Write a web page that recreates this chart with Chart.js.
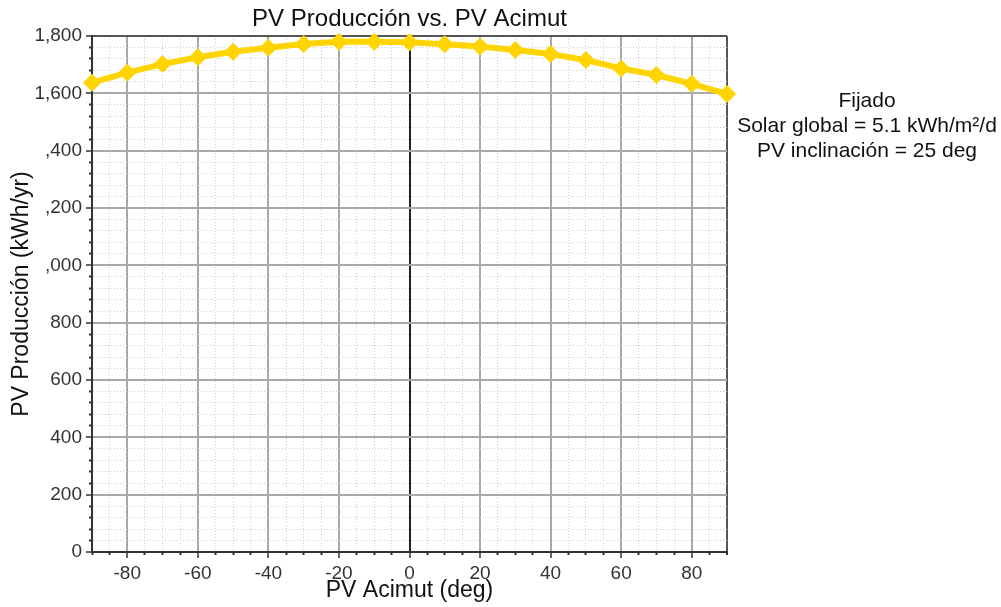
<!DOCTYPE html>
<html><head><meta charset="utf-8">
<script src="https://cdn.jsdelivr.net/npm/chart.js@4.4.1/dist/chart.umd.min.js"></script>
<style>
html,body{margin:0;padding:0;background:#fff;}
#wrap{position:relative;width:1001px;height:607px;overflow:hidden;}
#note{position:absolute;left:733px;top:87px;width:268px;text-align:center;font-family:'Liberation Sans',Arial,sans-serif;font-size:21px;line-height:25px;color:#111;}
</style></head><body>
<div id="wrap"><canvas id="c" width="1001" height="607"></canvas>
<div id="note"><div>Fijado</div><div>Solar global = 5.1 kWh/m²/d</div><div>PV inclinación = 25 deg</div></div></div>
<script>
const azimuth = [-90,-80,-70,-60,-50,-40,-30,-20,-10,0,10,20,30,40,50,60,70,80,90];
const production = [1637,1672,1702,1726,1745,1759,1772,1780,1780,1778,1771,1763,1751,1737,1716,1687,1664,1633,1598];
const xTickValues = [-80,-60,-40,-20,0,20,40,60,80];
const xTickLabels = ['-80','-60','-40','-20','0','20','40','60','80'];
const yTickValues = [0,200,400,600,800,1000,1200,1400,1600,1800];
const yTickLabels = ['0','200','400','600','800',',000',',200',',400','1,600','1,800'];

const FONT = "'Liberation Sans', Arial, sans-serif";
Chart.defaults.font.family = FONT;

function tv(ctx){ return ctx && ctx.tick ? ctx.tick.value : null; }

const points = azimuth.map((a,i)=>({x:a, y:production[i]}));

new Chart(document.getElementById('c'), {
  type:'line',
  data:{datasets:[{
    data:points,
    borderColor:'#FFD400',
    backgroundColor:'#FFD400',
    borderWidth:6,
    pointStyle:'rectRot',
    pointRadius:9,
    pointBackgroundColor:'#FFD400',
    pointBorderWidth:0,
    tension:0,
    clip:false
  }]},
  options:{
    responsive:false,
    animation:false,
    devicePixelRatio:1,
    layout:{padding:{left:0,right:274,top:0,bottom:0}},
    plugins:{
      legend:{display:false},
      tooltip:{enabled:false},
      title:{display:true,text:'PV Producción vs. PV Acimut',fullSize:false,color:'#111',
        font:{family:FONT,size:24,weight:'normal'},padding:{top:4.6,bottom:2.6}}
    },
    scales:{
      x:{
        type:'linear',min:-90,max:90,
        afterFit(s){ s.height = 55; },
        ticks:{stepSize:5,autoSkip:false,maxTicksLimit:100,maxRotation:0,padding:4,color:'#333',
          font:{size:19},
          callback(v){ const i = xTickValues.indexOf(v); return i>=0 ? xTickLabels[i] : ''; }},
        grid:{
          color(ctx){ const v=tv(ctx); if(v===0) return '#222'; if(v===90) return '#555'; if(v!==null && v%20===0) return '#a8a8a8'; return '#cfcfcf'; },
          lineWidth(ctx){ const v=tv(ctx); if(v!==null && (v%20===0 || v===90)) return 2; return 1; },
          tickLength:6,
          tickColor:'#333',
          tickWidth(ctx){ const v=tv(ctx); return (v!==null && v%20===0) ? 1.5 : 2; },
          tickBorderDash(ctx){ const v=tv(ctx); return (v!==null && v%20===0) ? [] : [2,10]; },
          tickBorderDashOffset:0
        },
        border:{color:'#333',width:2,
          dash(ctx){ const v=tv(ctx); if(v===null) return []; return (v%20===0 || v===90) ? [] : [1,2]; }},
        title:{display:true,text:'PV Acimut (deg)',color:'#111',font:{family:FONT,size:23,weight:'normal'},padding:{top:0,bottom:2.5}}
      },
      y:{
        type:'linear',min:0,max:1800,
        afterFit(s){ s.width = 92; },
        ticks:{stepSize:40,autoSkip:false,maxTicksLimit:100,padding:4,color:'#333',
          font:{size:19},
          callback(v){ const i = yTickValues.indexOf(v); return i>=0 ? yTickLabels[i] : ''; }},
        grid:{
          color(ctx){ const v=tv(ctx); if(v===1800) return '#555'; if(v!==null && v%200===0) return '#a8a8a8'; return '#cfcfcf'; },
          lineWidth(ctx){ const v=tv(ctx); if(v!==null && v%200===0) return 2; return 1; },
          tickLength:6,
          tickColor:'#333',
          tickWidth(ctx){ const v=tv(ctx); return (v!==null && v%200===0) ? 1.5 : 2; },
          tickBorderDash(ctx){ const v=tv(ctx); return (v!==null && v%200===0) ? [] : [2,10]; },
          tickBorderDashOffset(ctx){ return -3; }
        },
        border:{color:'#333',width:2,
          dash(ctx){ const v=tv(ctx); if(v===null) return []; return (v%200===0) ? [] : [1,2]; }},
        title:{display:true,text:'PV Producción (kWh/yr)',color:'#111',font:{family:FONT,size:23,weight:'normal'},padding:{top:8,bottom:0}}
      }
    }
  }
});
</script>
</body></html>
